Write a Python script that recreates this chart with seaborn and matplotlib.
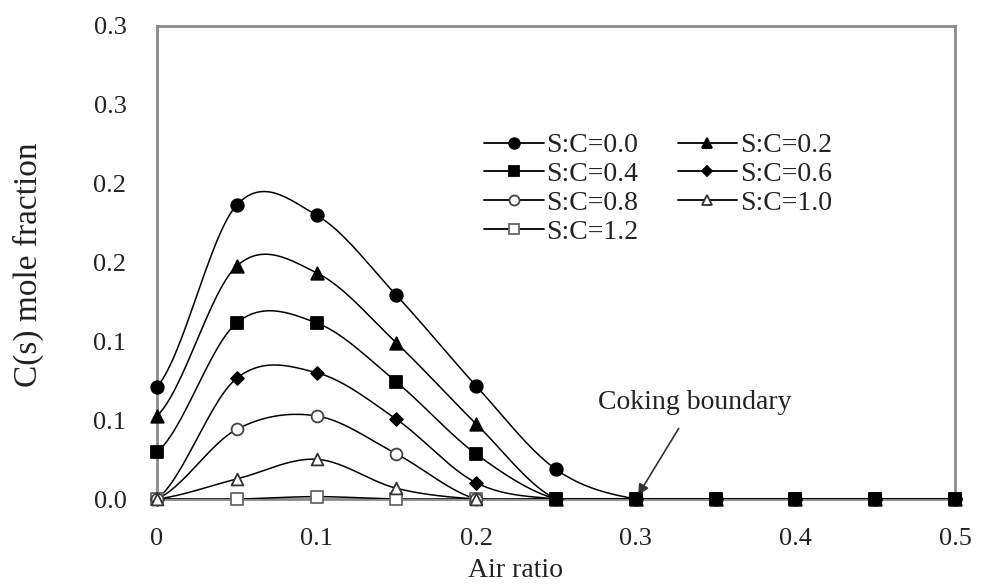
import numpy as np
import pandas as pd
import matplotlib
matplotlib.use("Agg")
import matplotlib.pyplot as plt
from matplotlib.lines import Line2D
import seaborn as sns

# Air ratio sampling points
air_ratio = [0.0, 0.05, 0.10, 0.15, 0.20, 0.25, 0.30, 0.35, 0.40, 0.45, 0.50]

# C(s) mole fraction for each steam-to-carbon ratio
sc_00 = [0.0711, 0.1865, 0.1800, 0.1292, 0.0717, 0.0188, 0.0, 0.0, 0.0, 0.0, 0.0]
sc_02 = [0.0527, 0.1478, 0.1435, 0.0990, 0.0476, 0.0, 0.0, 0.0, 0.0, 0.0, 0.0]
sc_04 = [0.0298, 0.1117, 0.1117, 0.0742, 0.0285, 0.0, 0.0, 0.0, 0.0, 0.0, 0.0]
sc_06 = [0.0, 0.0766, 0.0801, 0.0506, 0.0103, 0.0, 0.0, 0.0, 0.0, 0.0, 0.0]
sc_08 = [0.0, 0.0442, 0.0527, 0.0286, 0.0, 0.0, 0.0, 0.0, 0.0, 0.0, 0.0]
sc_10 = [0.0, 0.0127, 0.0252, 0.0068, 0.0, 0.0, 0.0, 0.0, 0.0, 0.0, 0.0]
sc_12 = [0.0, 0.0, 0.0015, 0.0, 0.0, 0.0, 0.0, 0.0, 0.0, 0.0, 0.0]

series_labels = ["S:C=0.0", "S:C=0.2", "S:C=0.4", "S:C=0.6",
                 "S:C=0.8", "S:C=1.0", "S:C=1.2"]
series_values = [sc_00, sc_02, sc_04, sc_06, sc_08, sc_10, sc_12]

y_ticks = [0.0, 0.05, 0.10, 0.15, 0.20, 0.25, 0.30]
y_tick_labels = ["0.0", "0.1", "0.1", "0.2", "0.2", "0.3", "0.3"]
x_ticks = [0.0, 0.1, 0.2, 0.3, 0.4, 0.5]
x_tick_labels = ["0", "0.1", "0.2", "0.3", "0.4", "0.5"]

# marker styles: (marker, size, face, edge, zorder)
styles = {
    "S:C=0.0": ("o", 9, "black", "black", 5),
    "S:C=0.2": ("^", 9, "black", "black", 5),
    "S:C=0.4": ("s", 9, "black", "black", 9),
    "S:C=0.6": ("D", 6.5, "black", "black", 5),
    "S:C=0.8": ("o", 8.5, "white", "#444444", 6),
    "S:C=1.0": ("^", 8.5, "white", "#333333", 6),
    "S:C=1.2": ("s", 8, "white", "#666666", 4),
}


def smooth_curve(x, y, n=30):
    """Catmull-Rom spline through the points (smoothed-line style)."""
    x = np.asarray(x, float)
    y = np.asarray(y, float)
    px = np.concatenate([[2 * x[0] - x[1]], x, [2 * x[-1] - x[-2]]])
    py = np.concatenate([[y[0]], y, [y[-1]]])
    xs, ys = [], []
    t = np.linspace(0, 1, n, endpoint=False)
    h00 = 2 * t**3 - 3 * t**2 + 1
    h10 = t**3 - 2 * t**2 + t
    h01 = -2 * t**3 + 3 * t**2
    h11 = t**3 - t**2
    for i in range(1, len(px) - 2):
        mx0 = (px[i + 1] - px[i - 1]) / 2
        mx1 = (px[i + 2] - px[i]) / 2
        my0 = (py[i + 1] - py[i - 1]) / 2
        my1 = (py[i + 2] - py[i]) / 2
        xs.append(h00 * px[i] + h10 * mx0 + h01 * px[i + 1] + h11 * mx1)
        ys.append(h00 * py[i] + h10 * my0 + h01 * py[i + 1] + h11 * my1)
    xs.append([x[-1]])
    ys.append([y[-1]])
    return np.concatenate(xs), np.concatenate(ys)


sns.set_style("white")
plt.rcParams["font.family"] = ["Liberation Serif", "DejaVu Serif"]
text_color = "#222222"
spine_color = "#8a8a8a"

fig = plt.figure(figsize=(9.82, 5.86), dpi=100)
ax = fig.add_axes([157 / 982, 1 - 499 / 586, (955 - 157) / 982, (499 - 26) / 586])

points = pd.DataFrame({
    "air": np.tile(air_ratio, len(series_labels)),
    "frac": np.concatenate(series_values),
    "series": np.repeat(series_labels, len(air_ratio)),
})

handles = {}
for label in series_labels:
    sub = points[points["series"] == label]
    marker, msize, face, edge, z = styles[label]
    sx, sy = smooth_curve(sub["air"], sub["frac"])
    curve = pd.DataFrame({"air": sx, "frac": sy})
    sns.lineplot(data=curve, x="air", y="frac", ax=ax, color="black",
                 linewidth=1.1, sort=False, estimator=None, zorder=3)
    sns.scatterplot(data=sub, x="air", y="frac", ax=ax, marker=marker,
                    s=msize**2, facecolor=face, edgecolor=edge,
                    linewidth=1.3, zorder=z, clip_on=False, legend=False)
    handles[label] = Line2D([], [], color="black", linewidth=1.3, marker=marker,
                            markersize=msize * 0.85, markerfacecolor=face,
                            markeredgecolor=edge, markeredgewidth=1.3,
                            label=label)

ax.set_xlim(0, 0.5)
ax.set_ylim(0, 0.3)
ax.set_xticks(x_ticks)
ax.set_xticklabels(x_tick_labels)
ax.set_yticks(y_ticks)
ax.set_yticklabels(y_tick_labels)
ax.tick_params(axis="y", direction="in", length=7, width=1.2, color=spine_color,
               labelsize=19, labelcolor=text_color, pad=22)
ax.tick_params(axis="x", length=0, labelsize=19, labelcolor=text_color, pad=21)

for side in ["left", "right", "top", "bottom"]:
    ax.spines[side].set_visible(True)
    ax.spines[side].set_color(spine_color)
    ax.spines[side].set_linewidth(2.0)
ax.spines["bottom"].set_zorder(2)

ax.set_xlabel("Air ratio", fontsize=20, color=text_color)
ax.set_ylabel("C(s) mole fraction", fontsize=24, color=text_color)
ax.xaxis.set_label_coords((516 - 157) / 798, (499 - 558) / 473)
ax.yaxis.set_label_coords((44 - 157) / 798, (499 - 265) / 473)
ax.grid(False)

ax.annotate("Coking boundary", xy=(0.3014, 0.0025), xytext=(0.337, 0.0615),
            fontsize=20, color=text_color, ha="center", va="center",
            arrowprops=dict(arrowstyle="-|>", color="#333333", lw=1.2,
                            mutation_scale=16, shrinkA=9, shrinkB=0))

# two columns filled row by row: 0.0 | 0.2, 0.4 | 0.6, 0.8 | 1.0, 1.2
legend_order = ["S:C=0.0", "S:C=0.4", "S:C=0.8", "S:C=1.2",
                "S:C=0.2", "S:C=0.6", "S:C=1.0"]
fig.legend(handles=[handles[k] for k in legend_order], ncol=2, frameon=False,
           loc="upper left", bbox_to_anchor=(484 / 982, 1 - 133 / 586),
           fontsize=20, handlelength=2.15, handletextpad=0.1,
           columnspacing=1.4, labelspacing=0.12, borderpad=0, borderaxespad=0,
           labelcolor=text_color)

fig.savefig("out.png", dpi=100)
